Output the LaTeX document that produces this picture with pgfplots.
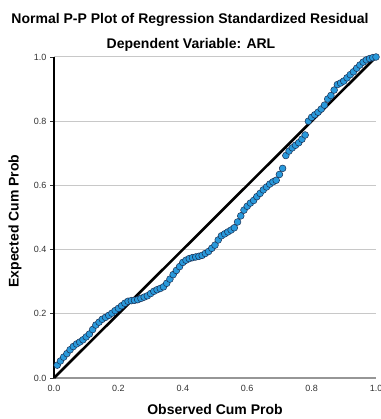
\documentclass[border=0pt]{standalone}
\usepackage{pgfplots}
\pgfplotsset{compat=1.18}
\usepackage{fontspec}
\setmainfont{Liberation Sans}
\definecolor{ptfill}{RGB}{41,153,219}
\definecolor{ptedge}{RGB}{25,45,80}
\definecolor{gridc}{RGB}{200,200,200}
\definecolor{botax}{RGB}{150,150,150}
\definecolor{tickc}{RGB}{50,50,50}
\begin{document}
\begin{tikzpicture}[x=1pt,y=1pt]
\useasboundingbox (0,0) rectangle (380,419);
\node[font=\fontsize{14}{16}\selectfont\bfseries] at (190,399) {Normal P-P Plot of Regression Standardized Residual};
\node[font=\fontsize{14}{16}\selectfont\bfseries] at (191,374) {Dependent Variable: ARL};
\node[font=\fontsize{14}{16}\selectfont\bfseries] at (215,10) {Observed Cum Prob};
\node[font=\fontsize{14}{16}\selectfont\bfseries, rotate=90] at (15,198) {Expected Cum Prob};
\begin{axis}[
  at={(54pt,41pt)}, anchor=south west,
  width=322pt, height=321pt, scale only axis,
  xmin=0, xmax=1, ymin=0, ymax=1,
  axis x line*=bottom, axis y line*=left,
  x axis line style={botax, line width=2pt},
  y axis line style={black, line width=1.1pt},
  xtick={0,0.2,0.4,0.6,0.8,1.0},
  ytick={0,0.2,0.4,0.6,0.8,1.0},
  ymajorgrids, grid style={gridc, line width=1pt},
  tick align=outside, major tick length=4pt,
  xtick style={draw=none},
  ytick style={tickc, line width=0.8pt},
  /pgf/number format/assume math mode=true,
  /pgf/number format/fixed, /pgf/number format/fixed zerofill, /pgf/number format/precision=1,
  tick label style={font=\fontsize{9}{10}\selectfont, text=tickc},
  clip=false,
]
\addplot[only marks, mark=*, mark size=3.4pt, mark options={fill=ptfill, draw=ptedge, line width=0.5pt}] coordinates {
(0.01,0.040) (0.02,0.053) (0.03,0.065) (0.04,0.076) (0.05,0.088)
(0.06,0.098) (0.07,0.106) (0.08,0.112) (0.09,0.119) (0.10,0.128)
(0.11,0.137) (0.12,0.151) (0.13,0.165) (0.14,0.174) (0.15,0.183)
(0.16,0.189) (0.17,0.195) (0.18,0.202) (0.19,0.210) (0.20,0.217)
(0.21,0.225) (0.22,0.233) (0.23,0.239) (0.24,0.241) (0.25,0.242)
(0.26,0.244) (0.27,0.248) (0.28,0.252) (0.29,0.256) (0.30,0.263)
(0.31,0.270) (0.32,0.275) (0.33,0.279) (0.34,0.284) (0.35,0.295)
(0.36,0.308) (0.37,0.322) (0.38,0.335) (0.39,0.347) (0.40,0.360)
(0.41,0.367) (0.42,0.372) (0.43,0.375) (0.44,0.377) (0.45,0.379)
(0.46,0.382) (0.47,0.388) (0.48,0.394) (0.49,0.404) (0.50,0.414)
(0.51,0.430) (0.52,0.443) (0.53,0.449) (0.54,0.455) (0.55,0.461)
(0.56,0.468) (0.57,0.486) (0.58,0.505) (0.59,0.523) (0.60,0.535)
(0.61,0.545) (0.62,0.553) (0.63,0.565) (0.64,0.575) (0.65,0.586)
(0.66,0.595) (0.67,0.604) (0.68,0.611) (0.69,0.616) (0.70,0.634)
(0.71,0.653) (0.72,0.693) (0.73,0.707) (0.74,0.717) (0.75,0.725)
(0.76,0.733) (0.77,0.744) (0.78,0.757) (0.79,0.800) (0.80,0.812)
(0.81,0.820) (0.82,0.828) (0.83,0.838) (0.84,0.850) (0.85,0.869)
(0.86,0.880) (0.87,0.897) (0.88,0.914) (0.89,0.919) (0.90,0.925)
(0.91,0.935) (0.92,0.945) (0.93,0.954) (0.94,0.965) (0.95,0.975)
(0.96,0.984) (0.97,0.991) (0.98,0.995) (0.99,0.998) (1.00,1.000)
};
\addplot[black, line width=2.6pt] coordinates {(0,0) (1,1)};
\end{axis}
\end{tikzpicture}
\end{document}
